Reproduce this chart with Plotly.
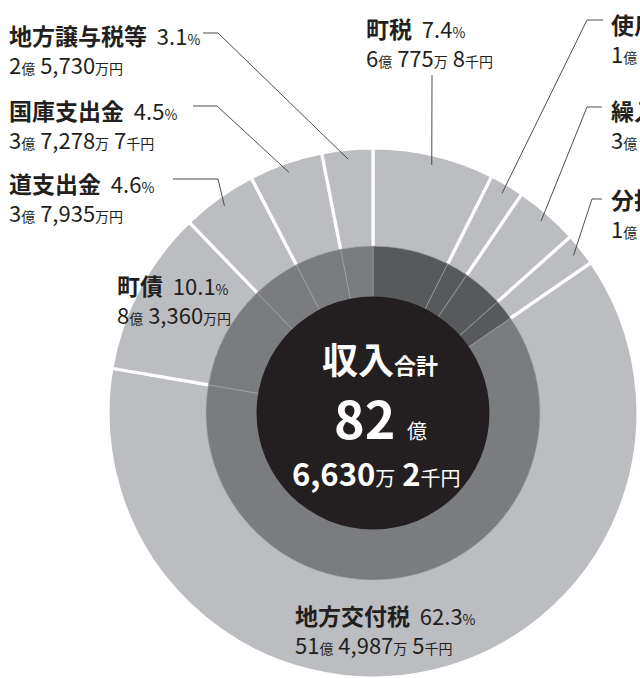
import math
import re
import plotly.graph_objects as go

# ---------------- data ----------------
categories = ["町税", "使用料及び手数料", "繰入金", "分担金及び負担金", "地方交付税",
              "町債", "道支出金", "国庫支出金", "地方譲与税等"]
percents = [7.4, 2.1, 3.9, 2.0, 62.3, 10.1, 4.6, 4.5, 3.1]
amounts = ["6億 775万 8千円", "1億 7,366万 2千円", "3億 2,134万円", "1億 6,532万円",
           "51億 4,987万 5千円", "8億 3,360万円", "3億 7,935万円", "3億 7,278万 7千円",
           "2億 5,730万円"]
groups = ["自主財源", "自主財源", "自主財源", "自主財源", "依存財源",
          "依存財源", "依存財源", "依存財源", "依存財源"]
total_label = ["収入", "合計", "82", "億", "6,630", "万", "2", "千円"]

# ---------------- layout / style ----------------
W, H = 640, 678
CX, CY = 373, 413
R_OUT, R_MID, R_IN = 265, 167, 116.5
FONT = "Noto Sans CJK JP"
TXT = "#231f20"
OUTER_COL = "#bcbdc1"
GROUP_COL = {"自主財源": "#58595b", "依存財源": "#7b7c80"}

# label positions: (x, title_y, value_y, leader start points)
LABEL_POS = {
    "町税": (364, 26, 56, [(432, 75)]),
    "使用料及び手数料": (609, 22, 51, [(603, 20), (587, 20)]),
    "繰入金": (609, 108, 137, [(602, 107), (587, 107)]),
    "分担金及び負担金": (609, 197, 226, [(602, 199), (592, 199)]),
    "地方交付税": (293, 613, 642, []),
    "町債": (115, 283, 313, []),
    "道支出金": (7, 181, 211, [(173, 179), (218, 179)]),
    "国庫支出金": (7, 108, 138, [(193, 106), (217, 106)]),
    "地方譲与税等": (7, 33, 63, [(203, 33), (218, 33)]),
}


def px(x):
    return x / W


def py(y):
    return 1 - y / H


def domain(r):
    return dict(x=[(CX - r) / W, (CX + r) / W],
                y=[(H - CY - r) / H, (H - CY + r) / H])


fig = go.Figure()

fig.add_trace(go.Pie(
    labels=categories, values=percents, sort=False, direction="clockwise",
    rotation=0, hole=R_MID / R_OUT - 0.008, domain=domain(R_OUT),
    marker=dict(colors=[OUTER_COL] * len(categories),
                line=dict(color="white", width=3.2)),
    textinfo="none", hoverinfo="skip", showlegend=False))

fig.add_trace(go.Pie(
    labels=categories, values=percents, sort=False, direction="clockwise",
    rotation=0, hole=R_IN / R_MID - 0.01, domain=domain(R_MID),
    marker=dict(colors=[GROUP_COL[g] for g in groups],
                line=dict(color="#a4a5a9", width=0.6)),
    textinfo="none", hoverinfo="skip", showlegend=False))

fig.add_trace(go.Pie(
    labels=["収入合計"], values=[1], domain=domain(R_IN),
    marker=dict(colors=["#231f20"], line=dict(width=0)),
    textinfo="none", hoverinfo="skip", showlegend=False))


def small_units(s, size=14):
    return re.sub(r"([億万千円])",
                  lambda m: f"<span style='font-size:{size}px'>{m.group(1)}</span>", s)


annotations = []
shapes = []
cum = 0.0
tot = sum(percents)
for name, pct, amt in zip(categories, percents, amounts):
    mid = (cum + pct / 2) / tot * 2 * math.pi
    cum += pct
    x0, ty, vy, pts = LABEL_POS[name]
    annotations.append(dict(
        x=px(x0), y=py((ty + vy) / 2 + 1), xref="paper", yref="paper",
        xanchor="left", yanchor="middle", align="left",
        showarrow=False, font=dict(family=FONT, size=22, color=TXT),
        text=(f"<b><span style='font-size:23px'>{name}</span></b>  {pct}"
              f"<span style='font-size:14px'>%</span><br>{small_units(amt)}")))
    if pts:
        rr = 255
        ex, ey = CX + rr * math.sin(mid), CY - rr * math.cos(mid)
        allp = pts + [(ex, ey)]
        path = "M " + " L ".join(f"{px(a):.5f},{py(b):.5f}" for a, b in allp)
        shapes.append(dict(type="path", xref="paper", yref="paper", path=path,
                           line=dict(color="#3a3a3a", width=0.9)))

# center text
annotations.append(dict(
    x=px(380), y=py(358), xref="paper", yref="paper", xanchor="center", yanchor="middle",
    showarrow=False, font=dict(family=FONT, size=36, color="white"),
    text=f"<b>{total_label[0]}<span style='font-size:22px'>{total_label[1]}</span></b>"))
annotations.append(dict(
    x=px(380), y=py(417), xref="paper", yref="paper", xanchor="center", yanchor="middle",
    showarrow=False, font=dict(family=FONT, size=52, color="white"),
    text=f"<b>{total_label[2]}</b> <span style='font-size:20px'>{total_label[3]}</span>"))
annotations.append(dict(
    x=px(376), y=py(472), xref="paper", yref="paper", xanchor="center", yanchor="middle",
    showarrow=False, font=dict(family=FONT, size=31, color="white"),
    text=(f"<b>{total_label[4]}</b><span style='font-size:20px'>{total_label[5]}</span> "
          f"<b>{total_label[6]}</b><span style='font-size:20px'>{total_label[7]}</span>")))

fig.update_layout(
    width=W, height=H, margin=dict(l=0, r=0, t=0, b=0),
    paper_bgcolor="white", plot_bgcolor="white",
    annotations=annotations, shapes=shapes, showlegend=False)

fig.write_html("out.html")
